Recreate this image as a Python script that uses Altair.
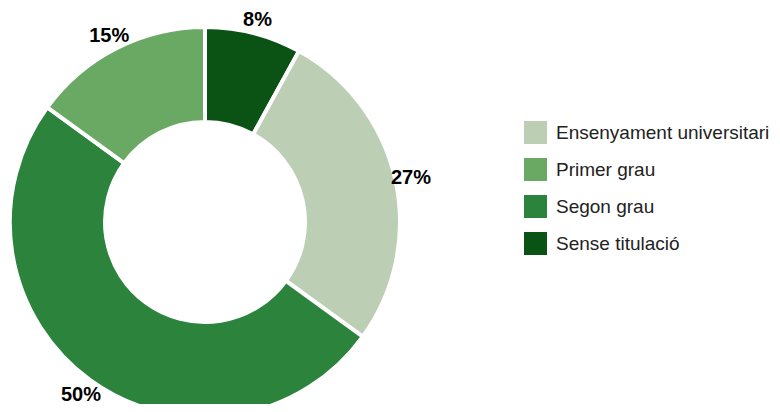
import altair as alt
import pandas as pd

categories = ["Sense titulació", "Ensenyament universitari", "Segon grau", "Primer grau"]
values = [8, 27, 50, 15]
labels = ["8%", "27%", "50%", "15%"]
order = [0, 1, 2, 3]

legend_domain = ["Ensenyament universitari", "Primer grau", "Segon grau", "Sense titulació"]
legend_colors = ["#bccfb5", "#6aa964", "#2b833c", "#0b5215"]

df = pd.DataFrame({"cat": categories, "val": values, "lab": labels, "ord": order})

cx, cy = 197, 214

base = alt.Chart(df).encode(
    theta=alt.Theta("val:Q", stack=True),
    order=alt.Order("ord:Q", sort="ascending"),
)

arcs = base.mark_arc(outerRadius=195, innerRadius=100, stroke="white", strokeWidth=4).encode(
    x=alt.value(cx),
    y=alt.value(cy),
    color=alt.Color(
        "cat:N",
        scale=alt.Scale(domain=legend_domain, range=legend_colors),
        legend=alt.Legend(
            title=None,
            orient="none",
            legendX=516,
            legendY=113,
            symbolType="square",
            symbolSize=529,
            symbolStrokeWidth=0,
            symbolOpacity=1,
            labelFont="Liberation Sans",
            labelFontSize=19,
            labelColor="#222222",
            labelOffset=9,
            rowPadding=14,
            labelLimit=300,
        ),
    ),
)

text = base.mark_text(
    radius=211, font="Liberation Sans", fontSize=20, fontWeight="bold", color="#000000",
    align="center", baseline="middle", dy=2,
).encode(
    x=alt.value(cx),
    y=alt.value(cy),
    text="lab:N",
)

chart = (arcs + text).properties(
    width=764, height=396, autosize=alt.AutoSizeParams(type="none"), padding=0
).configure_view(stroke=None)

chart.save("out.html", embed_options={"renderer": "svg", "actions": False})
